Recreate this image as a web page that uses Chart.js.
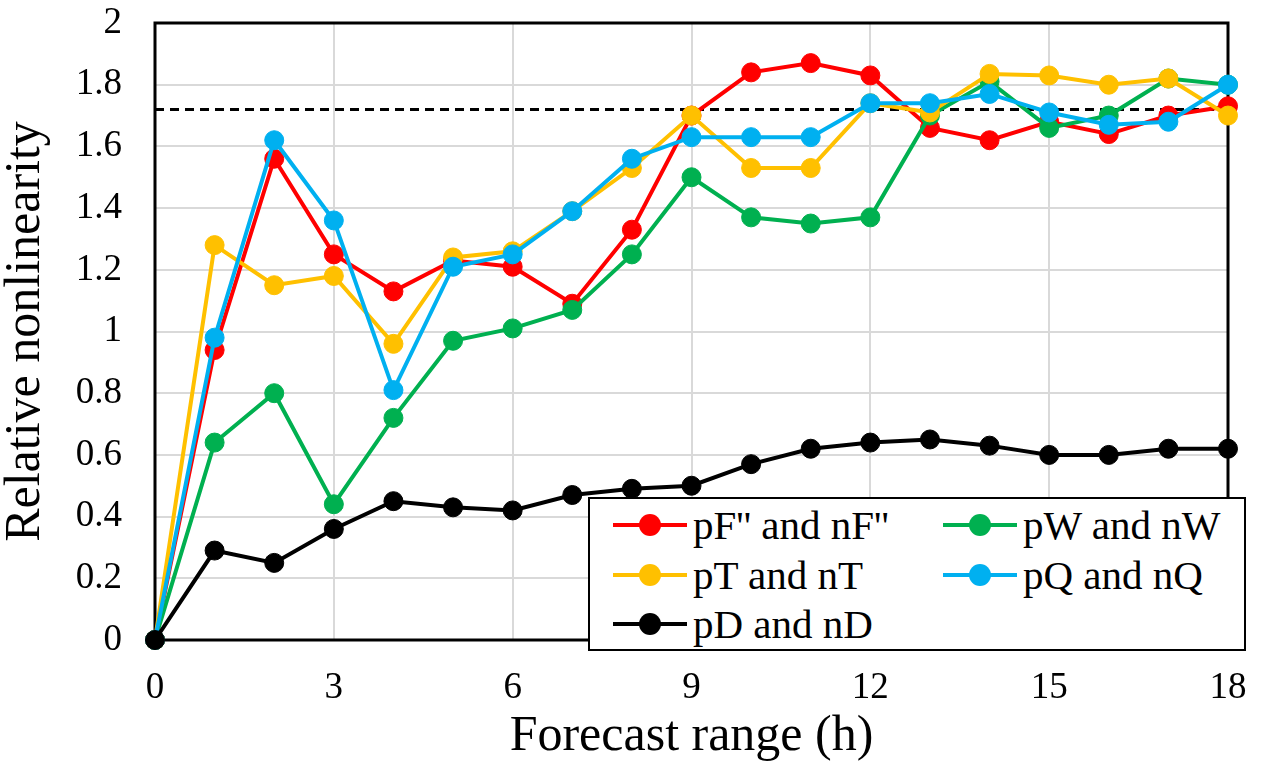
<!DOCTYPE html>
<html>
<head>
<meta charset="utf-8">
<script src="https://cdn.jsdelivr.net/npm/chart.js@4/dist/chart.umd.min.js"></script>
<style>
  html, body { margin: 0; padding: 0; background: #fff; }
  #wrap { position: relative; width: 1265px; height: 767px; }
  #legend {
    position: absolute; left: 588px; top: 497px; width: 654px; height: 150px;
    border: 2px solid #000; background: #fff; box-sizing: content-box;
    font-family: 'Liberation Serif', 'Times New Roman', serif; font-size: 41px; color: #000;
  }
  .item { position: absolute; height: 50px; }
  .line { position: absolute; top: 23px; height: 4px; width: 74px; left: 0; }
  .dot { position: absolute; top: 14px; width: 22px; height: 22px; border-radius: 50%; left: 26px; }
  .txt { position: absolute; left: 80px; top: 0; line-height: 50px; white-space: nowrap; }
</style>
</head>
<body>
<div id="wrap">
  <canvas id="c" width="1265" height="767"></canvas>
  <div id="legend"></div>
</div>
<script>
// ---- data ----
const hours = [0,1,2,3,4,5,6,7,8,9,10,11,12,13,14,15,16,17,18];
const pF = [0, 0.94, 1.56, 1.25, 1.13, 1.23, 1.21, 1.09, 1.33, 1.70, 1.84, 1.87, 1.83, 1.66, 1.62, 1.68, 1.64, 1.70, 1.73];
const pW = [0, 0.64, 0.80, 0.44, 0.72, 0.97, 1.01, 1.07, 1.25, 1.50, 1.37, 1.35, 1.37, 1.70, 1.81, 1.66, 1.70, 1.82, 1.80];
const pT = [0, 1.28, 1.15, 1.18, 0.96, 1.24, 1.26, 1.39, 1.53, 1.70, 1.53, 1.53, 1.74, 1.71, 1.835, 1.83, 1.80, 1.82, 1.70];
const pQ = [0, 0.98, 1.62, 1.36, 0.81, 1.21, 1.25, 1.39, 1.56, 1.63, 1.63, 1.63, 1.74, 1.74, 1.77, 1.71, 1.67, 1.68, 1.80];
const pD = [0, 0.29, 0.25, 0.36, 0.45, 0.43, 0.42, 0.47, 0.49, 0.50, 0.57, 0.62, 0.64, 0.65, 0.63, 0.60, 0.60, 0.62, 0.62];
const threshold = 1.72;
const seriesNames = ["pF'' and nF''", "pW and nW", "pT and nT", "pQ and nQ", "pD and nD"];
const seriesColors = ['#FF0000', '#00B050', '#FFC000', '#00B0F0', '#000000'];
const seriesValues = [pF, pW, pT, pQ, pD];
const xTitle = 'Forecast range (h)';
const yTitle = 'Relative nonlinearity';

const FONT = "'Liberation Serif', 'Times New Roman', serif";
const toPts = arr => hours.map((h, i) => ({x: h, y: arr[i]}));

const datasets = seriesValues.map((vals, i) => ({
  label: seriesNames[i],
  data: toPts(vals),
  borderColor: seriesColors[i],
  backgroundColor: seriesColors[i],
  pointBackgroundColor: seriesColors[i],
  pointBorderColor: seriesColors[i],
  borderWidth: 4,
  pointRadius: 9.5,
  pointBorderWidth: 1,
  pointHoverRadius: 9.5,
  tension: 0,
  clip: false,
  order: 5 - i
}));
datasets.push({
  label: 'threshold',
  data: [{x: hours[0], y: threshold}, {x: hours[hours.length - 1], y: threshold}],
  borderColor: '#000',
  borderWidth: 3,
  borderDash: [9, 6],
  pointRadius: 0,
  pointHoverRadius: 0,
  clip: false,
  order: 10
});

const framePlugin = {
  id: 'frame',
  beforeDatasetsDraw(chart) {
    const {ctx, chartArea: a} = chart;
    ctx.save();
    ctx.strokeStyle = '#000';
    ctx.lineWidth = 3;
    ctx.strokeRect(a.left, a.top, a.right - a.left, a.bottom - a.top);
    ctx.restore();
  }
};

new Chart(document.getElementById('c'), {
  type: 'line',
  data: { datasets },
  plugins: [framePlugin],
  options: {
    responsive: false,
    devicePixelRatio: 1,
    animation: false,
    events: [],
    layout: { padding: { left: 0, top: 23, right: 37, bottom: 0 } },
    plugins: { legend: { display: false }, tooltip: { enabled: false } },
    scales: {
      x: {
        type: 'linear', min: 0, max: 18,
        afterFit(s) { s.height = 127; s.paddingLeft = 0; s.paddingRight = 0; },
        ticks: { stepSize: 3, padding: 26, color: '#000', font: { family: FONT, size: 37 } },
        grid: { color: '#D9D9D9', lineWidth: 2, drawTicks: false },
        border: { display: false },
        title: { display: true, text: xTitle, color: '#000', font: { family: FONT, size: 50, lineHeight: 1 }, padding: { top: 0, bottom: 5 } }
      },
      y: {
        type: 'linear', min: 0, max: 2,
        afterFit(s) { s.width = 155; s.paddingTop = 0; s.paddingBottom = 0; },
        ticks: {
          stepSize: 0.2, padding: 33, color: '#000', font: { family: FONT, size: 37 },
          callback: v => String(Number(v.toFixed(1)))
        },
        grid: { color: '#D9D9D9', lineWidth: 2, drawTicks: false },
        border: { display: false },
        title: { display: true, text: yTitle, color: '#000', font: { family: FONT, size: 50, lineHeight: 1 }, padding: { top: 1, bottom: 0 } }
      }
    }
  }
});

// HTML legend (row-major, two columns), built from the series arrays
const legend = document.getElementById('legend');
seriesNames.forEach((name, i) => {
  const col = i % 2, row = Math.floor(i / 2);
  const it = document.createElement('div');
  it.className = 'item';
  it.style.left = (col === 0 ? 23 : 353) + 'px';
  it.style.top = (1 + row * 49.5) + 'px';
  it.innerHTML = '<div class="line" style="background:' + seriesColors[i] + '"></div>' +
                 '<div class="dot" style="background:' + seriesColors[i] + '"></div>' +
                 '<div class="txt"></div>';
  it.querySelector('.txt').textContent = name;
  legend.appendChild(it);
});
</script>
</body>
</html>
